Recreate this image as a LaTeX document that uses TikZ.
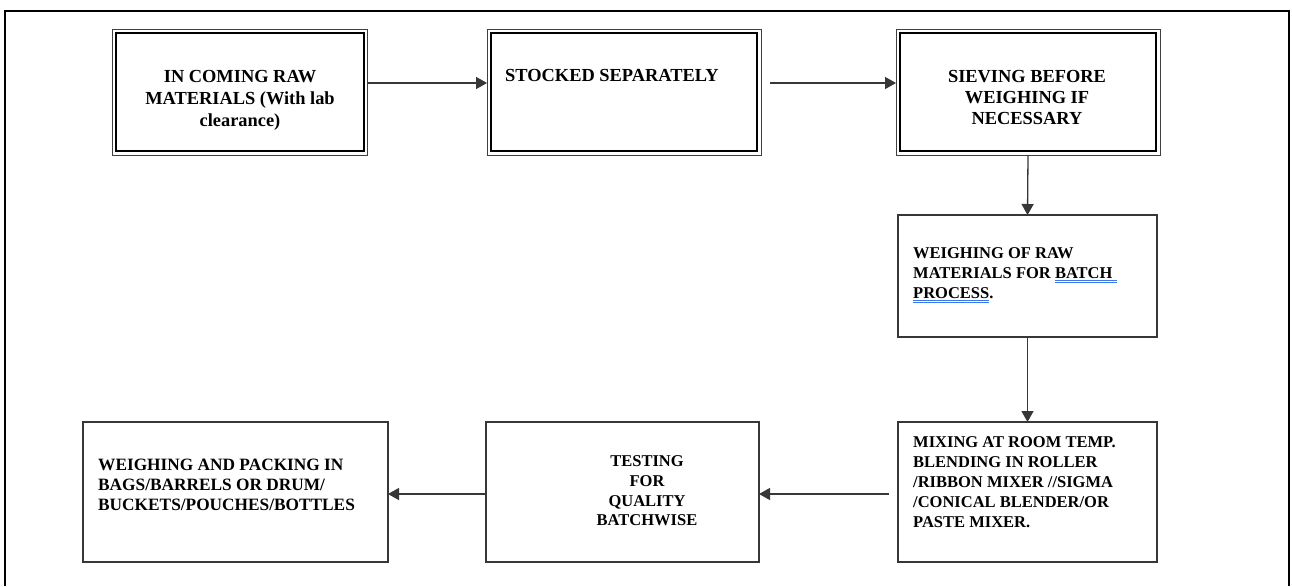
\documentclass[tikz,border=0pt]{standalone}
\usepackage{fontspec}
\setmainfont{Liberation Serif}
\usetikzlibrary{arrows.meta}
\definecolor{ulblue}{RGB}{60,120,235}
\definecolor{edge}{RGB}{55,55,55}
\newcommand{\myul}[1]{\setbox0\hbox{#1}\rlap{\textcolor{ulblue}{\rule[-1.8pt]{\wd0}{0.9pt}}}\rlap{\textcolor{ulblue}{\rule[-4.0pt]{\wd0}{0.9pt}}}\box0}
\begin{document}
\begin{tikzpicture}[x=1pt,y=-1pt,
  dbox/.style={draw=black, line width=2.4pt, inner sep=0pt, outer sep=0pt, minimum height=118pt},
  sbox/.style={draw=edge, line width=1.3pt, inner sep=0pt, outer sep=0pt},
  thinframe/.style={draw=black!75, line width=0.9pt},
  bigtxt/.style={inner sep=0pt, font={\fontsize{18.4}{22}\selectfont\bfseries}},
  smalltxt/.style={inner sep=0pt, font={\fontsize{16.5}{20}\selectfont\bfseries}},
  arr/.style={draw=edge, line width=1.3pt, -{Triangle[length=11pt,width=12pt]}},
  frame/.style={draw=black, line width=1.6pt}
]
\useasboundingbox (0,0) rectangle (1292,586);
\fill[white] (0,0) rectangle (1292,586);

% outer frame (no bottom edge)
\draw[frame] (5,586) -- (5,11) -- (1289,11) -- (1289,586);

% top row double boxes
\node[dbox, minimum width=247.5pt] (b1) at (240,92) {};
\node[dbox, minimum width=266pt] (b2) at (624,92) {};
\node[dbox, minimum width=256pt] (b3) at (1028,92) {};
\foreach \n in {b1,b2,b3}{
  \draw[thinframe] ([xshift=-4pt,yshift=4pt]\n.north west) rectangle ([xshift=4pt,yshift=-4pt]\n.south east);
}

% right column and bottom row single boxes
\node[sbox, minimum width=259pt, minimum height=122pt] (b4) at (1027.5,276) {};
\node[sbox, minimum width=259pt, minimum height=140pt] (b5) at (1027.5,492) {};
\node[sbox, minimum width=273pt, minimum height=140pt] (b6) at (622.5,492) {};
\node[sbox, minimum width=305pt, minimum height=140pt] (b7) at (235.5,492) {};

% texts
\node[bigtxt, anchor=north, align=center] (t1) at (240,70) {IN COMING RAW\\MATERIALS (With lab\\clearance)};
\node[bigtxt, anchor=north west, align=left] (t2) at (505,69) {STOCKED SEPARATELY};
\node[bigtxt, anchor=north, align=center, font={\fontsize{18.4}{21}\selectfont\bfseries}] (t3) at (1027,70) {SIEVING BEFORE\\WEIGHING IF\\NECESSARY};
\node[smalltxt, anchor=north west, align=left] (t4) at (913,247.5) {WEIGHING OF RAW\\MATERIALS FOR \myul{BATCH\ }\\\myul{PROCESS}.};
\node[smalltxt, anchor=north west, align=left] (t5) at (913,436.5) {MIXING AT ROOM TEMP.\\BLENDING IN ROLLER\\/RIBBON MIXER //SIGMA\\/CONICAL BLENDER/OR\\PASTE MIXER.};
\node[smalltxt, anchor=north, align=center, font={\fontsize{16.5}{19.7}\selectfont\bfseries}] (t6) at (647,455.5) {TESTING\\FOR\\QUALITY\\BATCHWISE};
\node[smalltxt, anchor=north west, align=left, font={\fontsize{17.3}{20}\selectfont\bfseries}] (t7) at (98,459.3) {WEIGHING AND PACKING IN\\BAGS/BARRELS OR DRUM/\\BUCKETS/POUCHES/BOTTLES};

% connectors
\draw[arr] ([xshift=4pt,yshift=9pt]b1.east) -- ([xshift=-4pt,yshift=9pt]b2.west);
\draw[arr] ([xshift=13pt,yshift=9pt]b2.east) -- ([xshift=-4pt,yshift=9pt]b3.west);
\draw[arr] ([yshift=-4pt]b3.south) -- (b4.north);
\draw[arr] (b4.south) -- (b5.north);
\draw[arr] ([xshift=-9pt,yshift=-2pt]b5.west) -- ([yshift=-2pt]b6.east);
\draw[arr] ([yshift=-2pt]b6.west) -- ([yshift=-2pt]b7.east);
\end{tikzpicture}
\end{document}
